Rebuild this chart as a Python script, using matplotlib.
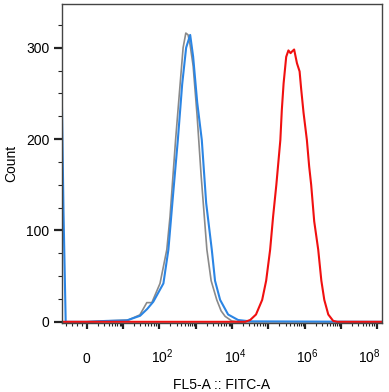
import matplotlib
matplotlib.use("Agg")
import numpy as np
import matplotlib.pyplot as plt
from matplotlib.transforms import ScaledTranslation

plt.rcParams['font.family'] = ['Liberation Sans', 'DejaVu Sans']
plt.rcParams['mathtext.fontset'] = 'custom'
plt.rcParams['mathtext.rm'] = 'Liberation Sans'

# FITC-A values (biex-like axis) and event counts
gray_x = [-6.9, 0, 5.5, 14, 29, 45, 62, 104, 160, 196, 279, 372, 450, 534, 617,
          701, 850, 1095, 1410, 2030, 2660, 3800, 5000, 6450, 9800, 15000, 1.3e8]
gray_y = [0, 0, 1, 2, 7.6, 21, 21, 42, 79, 115, 199, 260, 300, 316, 314,
          303, 280, 225, 160, 79, 45, 24, 12, 6, 1, 0, 0]

blue_x = [-6.9, -6.4, -5.8, 0, 5.5, 12.6, 29.4, 46, 68, 129, 177, 239, 322, 424,
          545, 704, 850, 1100, 1470, 1940, 2770, 3400, 4700, 7800, 14700, 31600, 1.3e8]
blue_y = [255, 120, 0, 0, 1, 1.5, 6.6, 14, 22, 42, 79, 140, 199, 260,
          300, 314, 290, 240, 199, 130, 79, 45, 24, 8, 2, 0.5, 0]

red_x = [-6.9, 22900, 31600, 45700, 67600, 87000, 112000, 135000, 166000, 214000,
         235000, 263000, 310000, 357000, 409000, 453000, 513000, 613000, 725000,
         800000, 930000, 1.15e6, 1.33e6, 1.51e6, 1.83e6, 2.36e6, 2.88e6, 3.47e6,
         4.47e6, 6.1e6, 7.9e6, 1.3e8]
red_y = [0, 0, 2, 8, 24, 45, 79, 115, 150, 199,
         232, 261, 290, 297, 294, 296, 298, 283, 274,
         255, 229, 199, 170, 150, 110, 79, 45, 24,
         8, 1, 0, 0]

major_ticks = [0] + [10 ** k for k in range(1, 9)]
major_labels = ['0', '', r'$10^{2}$', '', r'$10^{4}$', '', r'$10^{6}$', '', r'$10^{8}$']
y_ticks = [0, 100, 200, 300]

fig = plt.figure(figsize=(3.89, 3.92), dpi=100)
ax = fig.add_axes([0.1586, 0.176, 0.8226, 0.8138])

ax.plot(gray_x, gray_y, color='#8a8a8a', lw=1.2)
ax.plot(blue_x, blue_y, color='#2b85e4', lw=1.5)
ax.plot(red_x, red_y, color='#f01010', lw=1.5)

ax.set_xscale('symlog', base=10, linthresh=10, linscale=0.9)
ax.set_xlim(-6.9, 1.32e8)
ax.set_ylim(-1.3, 347.8)

# minor ticks: log pattern in every decade, also in the linear 0-10 part
minor = [-5.6, -4.2, -2.8, -1.4] + [10 * np.log10(m) for m in range(2, 10)]
for k in range(1, 8):
    minor += [m * 10 ** k for m in range(2, 10)]
ax.set_xticks(major_ticks)
ax.set_xticklabels(major_labels)
ax.set_xticks(minor, minor=True)
ax.set_yticks(y_ticks)
ax.set_yticks(np.arange(25, 340, 25), minor=True)

ax.tick_params(axis='x', which='major', length=4.5, width=1.6, pad=24.5,
               labelsize=10, color='#222222')
ax.tick_params(axis='x', which='minor', length=2.5, width=0.8, color='#222222')
ax.tick_params(axis='y', which='major', length=6, width=1.6, pad=3,
               labelsize=10, color='#222222')
ax.tick_params(axis='y', which='minor', length=3, width=0.8, color='#222222')

# the "10" sits on the tick, exponent hangs to the right; last one pulled inside
offset = ScaledTranslation(3 / 100, 0, fig.dpi_scale_trans)
last_offset = ScaledTranslation(-8 / 100, 0, fig.dpi_scale_trans)
ticks = ax.xaxis.get_major_ticks()
for i, t in enumerate(ticks):
    t.label1.set_va('baseline')
    if i == len(ticks) - 1:
        t.label1.set_transform(t.label1.get_transform() + last_offset)
    elif i > 0:
        t.label1.set_transform(t.label1.get_transform() + offset)

for s in ax.spines.values():
    s.set_color('#444444')
    s.set_linewidth(1.0)

ax.set_xlabel('FL5-A :: FITC-A', fontsize=10)
ax.set_ylabel('Count', fontsize=10)
ax.xaxis.set_label_coords(0.5, -0.172)
ax.yaxis.set_label_coords(-0.137, 0.5)

fig.savefig('out.png', dpi=100)
